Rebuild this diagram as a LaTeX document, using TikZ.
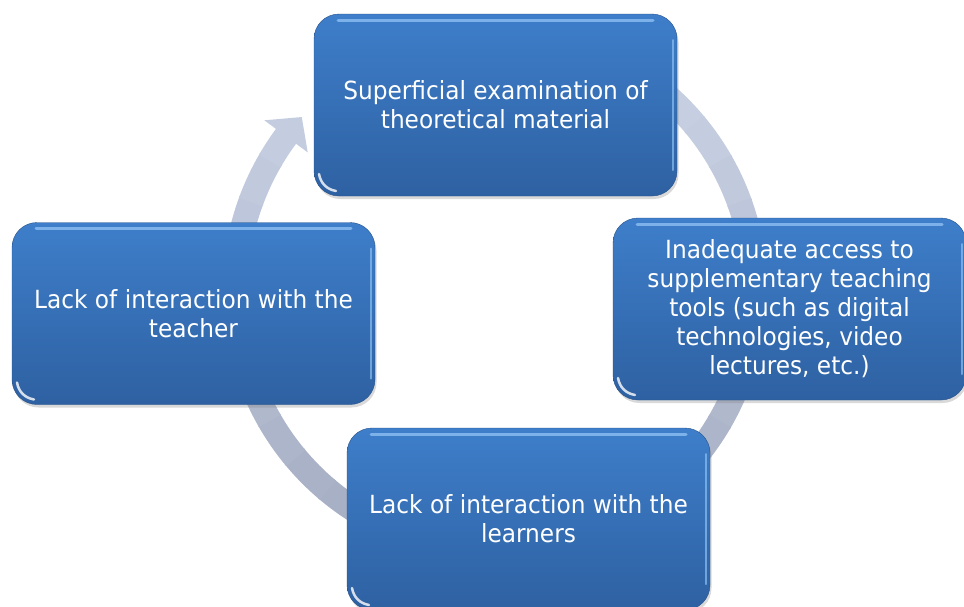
\documentclass[tikz,border=0pt]{standalone}
\usepackage{fontspec}
\setmainfont{DejaVu Sans}[FakeStretch=0.93]
\usetikzlibrary{calc, shadows}

\definecolor{boxtop}{RGB}{62,126,202}
\definecolor{boxbottom}{RGB}{46,97,162}
\definecolor{ringlight}{RGB}{204,213,232}
\definecolor{ringdark}{RGB}{164,172,193}
\definecolor{gloss}{RGB}{140,192,242}

\begin{document}
\begin{tikzpicture}[
        x=1pt, y=-1pt,
        box/.style={rectangle, rounded corners=25pt, minimum width=363pt, minimum height=182pt, inner sep=0pt,
          top color=boxtop, bottom color=boxbottom, draw=boxbottom!85!black, line width=0.4pt,
          text=white, align=center, font=\fontsize{25}{29}\selectfont,
          drop shadow={opacity=0.3, shadow xshift=1.5pt, shadow yshift=-3pt},
          path picture={
            \draw[gloss, line width=3pt, line cap=round, opacity=0.8]
              ([xshift=24pt, yshift=-6pt]path picture bounding box.north west) -- ([xshift=-24pt, yshift=-6pt]path picture bounding box.north east);
            \draw[gloss, line width=2pt, line cap=round, opacity=0.7]
              ([xshift=-4pt, yshift=-26pt]path picture bounding box.north east) -- ([xshift=-4pt, yshift=26pt]path picture bounding box.south east);
            \draw[white, line width=2.5pt, line cap=round, opacity=0.8]
              ([xshift=5pt, yshift=22pt]path picture bounding box.south west) to[bend right=35] ([xshift=22pt, yshift=5pt]path picture bounding box.south west);
          }},
        ring/.style={line width=25pt}
      ]
        \useasboundingbox (0,0) rectangle (964,606);

        % Ring
        \coordinate (c) at (495,291);
        \foreach \a in {240,250,...,570} {
          \pgfmathtruncatemacro{\p}{50+50*sin(\a+5)}
          \pgfmathsetmacro{\b}{min(\a+10.5,577)}
          \colorlet{segc}{ringdark!\p!ringlight}
          \draw[ring, segc] ($(c)+(\a:260)$) arc[start angle=\a, end angle=\b, radius=260];
        }
        \fill[ringdark!20!ringlight] ($(c)+(576.5:287)$) -- ($(c)+(582:260)$) -- ($(c)+(576.5:233)$) -- cycle;

        % Boxes
        \node[box] (theory) at (495.5,105) {Superficial examination of\\theoretical material};
        \node[box, minimum width=353pt] (tools) at (789.5,309) {Inadequate access to\\supplementary teaching\\tools (such as digital\\technologies, video\\lectures, etc.)};
        \node[box] (learners) at (528.5,519) {Lack of interaction with the\\learners};
        \node[box] (teacher) at (193.5,313.5) {Lack of interaction with the\\teacher};
      \end{tikzpicture}
\end{document}
